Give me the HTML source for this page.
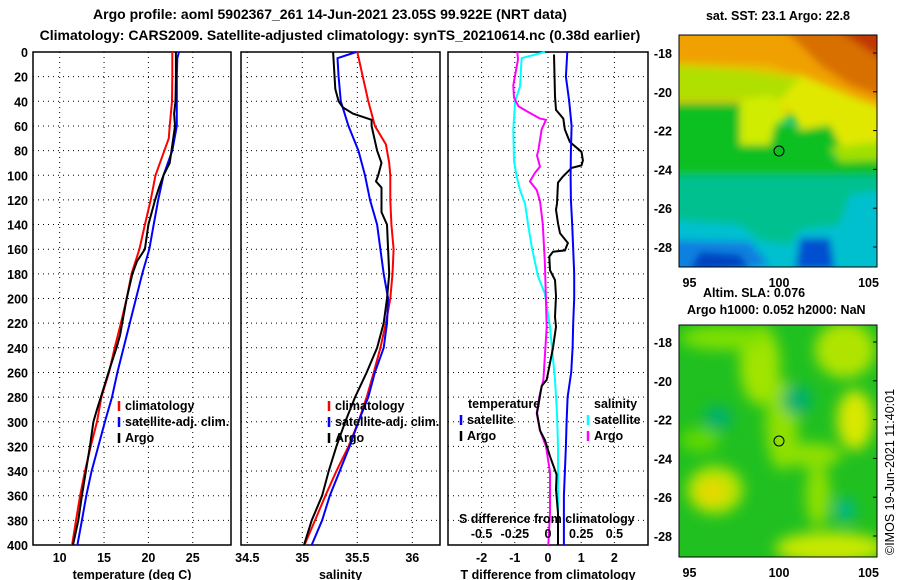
<!DOCTYPE html>
<html><head><meta charset="utf-8">
<style>
html,body{margin:0;padding:0;background:#fff;}
svg{display:block;}
text{font-family:"Liberation Sans",Arial,sans-serif;font-weight:bold;font-size:13px;fill:#000;}
.tk{font-size:12.5px;}
</style></head>
<body>
<svg id="chart" width="900" height="580" viewBox="0 0 900 580" xmlns="http://www.w3.org/2000/svg">
<defs>
<filter id="blur1" x="-20%" y="-20%" width="140%" height="140%"><feGaussianBlur stdDeviation="4"/></filter>
<filter id="blur2" x="-20%" y="-20%" width="140%" height="140%"><feGaussianBlur stdDeviation="7"/></filter>
<clipPath id="clipTop"><rect x="679" y="35" width="198" height="232"/></clipPath>
<clipPath id="clipBot"><rect x="679" y="325" width="198" height="232"/></clipPath>
</defs>
<text x="330" y="19" text-anchor="middle" style="font-size:14px">Argo profile: aoml 5902367_261 14-Jun-2021 23.05S 99.922E (NRT data)</text>
<text x="340" y="40" text-anchor="middle" style="font-size:14px">Climatology: CARS2009. Satellite-adjusted climatology: synTS_20210614.nc (0.38d earlier)</text>

<g id="p1"></g>
<g id="p2"></g>
<g id="p3"></g>

<!-- SST map -->
<g>
<text x="778" y="20" text-anchor="middle" class="tk">sat. SST: 23.1 Argo: 22.8</text>
<g clip-path="url(#clipTop)">
<rect x="679" y="35" width="198" height="232" fill="#00c090"/>
<g filter="url(#blur1)">
<rect x="670" y="25" width="220" height="90" fill="#e8c000"/>
<polygon points="670,25 890,25 890,120 860,100 820,85 770,65 670,62" fill="#f0a000"/>
<polygon points="780,25 890,25 890,100 850,85 820,65 800,45" fill="#d87000"/>
<polygon points="830,25 890,25 890,65 860,45" fill="#c03800"/>
<polygon points="740,80 800,75 860,100 890,110 890,158 850,158 830,150 800,130 790,110 760,100" fill="#e0e800"/>
<polygon points="670,65 740,70 800,78 780,100 740,100 670,100" fill="#b0e000"/>
<polygon points="670,103 740,103 740,145 770,145 775,125 790,125 800,130 830,125 840,145 830,158 890,158 890,185 670,185" fill="#10c020"/>
<polygon points="740,100 770,95 790,118 775,125 770,145 740,145" fill="#d0ec00"/>
<polygon points="830,148 890,140 890,160 840,162" fill="#a0e000"/>
<polygon points="670,175 890,175 890,240 670,230" fill="#00c090"/>
<polygon points="670,220 740,225 760,240 790,245 800,230 840,225 850,195 890,190 890,280 670,280" fill="#00c0d0"/>
<polygon points="670,240 750,242 770,265 670,280" fill="#1080e0"/>
<polygon points="700,252 740,255 750,270 690,270" fill="#0040c0"/>
<polygon points="800,238 830,238 835,270 795,270" fill="#0050d0"/>
</g>
</g>
<rect x="679" y="35" width="198" height="232" fill="none" stroke="#000" stroke-width="1"/>
<circle cx="779" cy="151" r="5" fill="none" stroke="#000" stroke-width="1"/>
</g>

<!-- SLA map -->
<g>
<g clip-path="url(#clipBot)">
<rect x="679" y="325" width="198" height="232" fill="#20c020"/>
<g filter="url(#blur2)">
<ellipse cx="760" cy="365" rx="20" ry="40" fill="#a0e400"/>
<ellipse cx="725" cy="338" rx="45" ry="12" fill="#80e000"/>
<ellipse cx="845" cy="350" rx="30" ry="28" fill="#b0e400"/>
<ellipse cx="855" cy="420" rx="18" ry="30" fill="#d8e800"/>
<ellipse cx="782" cy="425" rx="16" ry="45" fill="#90e000"/>
<ellipse cx="810" cy="455" rx="32" ry="12" fill="#90e000"/>
<ellipse cx="818" cy="495" rx="12" ry="32" fill="#90e000"/>
<ellipse cx="700" cy="440" rx="20" ry="12" fill="#60d800"/>
<ellipse cx="715" cy="490" rx="28" ry="24" fill="#b8e400"/>
<ellipse cx="712" cy="492" rx="15" ry="12" fill="#e8d800"/>
<ellipse cx="830" cy="548" rx="55" ry="16" fill="#c8e800"/>
<ellipse cx="718" cy="418" rx="14" ry="12" fill="#00b070"/>
<ellipse cx="797" cy="400" rx="15" ry="15" fill="#00b070"/>
<ellipse cx="845" cy="510" rx="10" ry="12" fill="#00b890"/>
</g>
</g>
<rect x="679" y="325" width="198" height="232" fill="none" stroke="#000" stroke-width="1"/>
<circle cx="779" cy="441" r="5" fill="none" stroke="#000" stroke-width="1"/>
<text x="703" y="297" class="tk">Altim. SLA: 0.076</text>
<text x="687" y="314" class="tk">Argo h1000: 0.052 h2000: NaN</text>
</g>
<g id="maplabels"></g>
<text transform="translate(894,555) rotate(-90)" style="font-weight:normal;font-size:12.5px">©IMOS 19-Jun-2021 11:40:01</text>

<script>
// ---------- data ----------
const depthTicks = [0,20,40,60,80,100,120,140,160,180,200,220,240,260,280,300,320,340,360,380,400];
const tTicks = [10,15,20,25];
const sTicks = [34.5,35,35.5,36];
const dTTicks = [-2,-1,0,1,2];
const dSTicks = [-0.5,-0.25,0,0.25,0.5];
const dSTickLabels = ["-0.5","-0.25","0","0.25","0.5"];

const tClimDepth = [0,20,40,60,70,80,100,120,140,160,180,200,220,240,260,280,300,320,340,360,380,400];
const tClimVal   = [22.7,22.7,22.66,22.4,22.3,21.8,20.8,20.26,19.6,18.98,18.1,17.55,16.9,16.2,15.56,14.7,14.2,13.5,12.85,12.3,11.84,11.4];
const tSatDepth = [0,5,20,40,60,80,100,120,140,160,180,200,220,240,260,280,300,320,340,360,380,400];
const tSatVal   = [23.45,23.26,23.2,23.2,23.2,22.7,21.7,21.1,20.6,20.1,19.3,18.6,17.9,17.2,16.5,15.9,15.1,14.35,13.6,13.0,12.5,12.0];
const tArgoDepth = [0,20,40,50,60,80,90,100,110,120,140,160,170,180,200,220,230,240,260,280,290,300,320,340,360,380,400];
const tArgoVal   = [23.1,23.1,23.05,22.9,23.0,22.6,22.4,21.7,21.2,20.75,20.0,19.6,18.7,18.2,17.55,17.05,16.8,16.4,15.5,14.65,14.2,13.8,13.4,12.95,12.5,12.1,11.5];

const sClimDepth = [0,40,60,75,90,100,120,140,160,180,190,200,210,220,240,260,280,300,320,340,360,380,400];
const sClimVal   = [35.50,35.60,35.66,35.76,35.79,35.80,35.80,35.81,35.83,35.82,35.81,35.80,35.78,35.76,35.71,35.65,35.585,35.51,35.42,35.31,35.21,35.115,35.02];
const sSatDepth = [0,5,20,40,60,80,100,120,140,160,180,200,220,240,260,280,300,320,340,360,380,400];
const sSatVal   = [35.49,35.32,35.33,35.35,35.42,35.51,35.57,35.615,35.68,35.71,35.74,35.78,35.77,35.74,35.66,35.60,35.51,35.43,35.34,35.25,35.18,35.085];
const sArgoDepth = [0,30,40,45,50,55,60,80,90,100,105,110,120,130,140,160,180,200,220,240,260,280,300,320,340,360,380,400];
const sArgoVal   = [35.28,35.30,35.33,35.37,35.46,35.63,35.63,35.68,35.72,35.69,35.67,35.72,35.72,35.72,35.77,35.78,35.79,35.77,35.74,35.68,35.585,35.48,35.39,35.31,35.24,35.18,35.085,35.015];

const dTSatDepth = [0,20,40,60,80,100,120,140,160,180,200,220,240,260,280,300,320,340,360,400];
const dTSatVal   = [0.58,0.54,0.64,0.71,0.69,0.68,0.69,0.73,0.76,0.79,0.79,0.76,0.74,0.70,0.59,0.56,0.54,0.51,0.48,0.48];
const dTArgoDepth = [2,36,47,54,63,73,81,88,92,94,97,101,106,123,128,139,147,155,161,162,166,177,185,198,215,223,240,266,271,293,307,315,328,343,355,374,400];
const dTArgoVal   = [0.18,0.21,0.24,0.46,0.51,0.66,1.01,1.05,1.01,0.71,0.60,0.45,0.30,0.27,0.24,0.30,0.36,0.60,0.51,0.15,0.04,0.06,0.21,0.24,0.21,0.24,0.15,-0.04,-0.19,-0.33,-0.24,-0.09,0.06,0.26,0.24,0.30,0.30];
const dSSatDepth = [0,5,28,40,63,88,101,112,123,139,158,182,196,223,266,293,320,374,400];
const dSSatVal   = [-0.023,-0.199,-0.211,-0.248,-0.261,-0.256,-0.236,-0.211,-0.173,-0.151,-0.123,-0.075,-0.023,0.015,0.053,0.068,0.075,0.075,0.075];
const dSArgoDepth = [0,6,27,37,44,48,54,55,63,80,84,93,98,105,112,121,139,171,223,266,277,293,307,320,341,374,400];
const dSArgoVal   = [-0.231,-0.226,-0.261,-0.256,-0.223,-0.160,-0.060,-0.015,-0.048,-0.073,-0.083,-0.060,-0.098,-0.136,-0.085,-0.060,-0.040,-0.023,-0.010,-0.035,-0.060,-0.085,-0.060,-0.015,0.015,0.015,0.002];

const latTicks = [-18,-20,-22,-24,-26,-28];
const lonTicks = [95,100,105];

// ---------- helpers ----------
const NS = "http://www.w3.org/2000/svg";
const svg = document.getElementById('chart');
function mk(tag, attrs, parent){ const e=document.createElementNS(NS,tag); for(const k in attrs) e.setAttribute(k,attrs[k]); (parent||svg).appendChild(e); return e; }
const Y0=52, Y1=545;
const yD = d => Y0 + (Y1-Y0)*d/400;

function panel(g, x0, x1, xScale, vTicks, tickLabels, xTitle, showDepth){
  for(const d of depthTicks){ if(d===0||d===400) continue;
    const l=mk('line',{x1:x0,x2:x1,y1:yD(d),y2:yD(d),stroke:'#000','stroke-width':1,'stroke-dasharray':'1,4'},g);
      }
  vTicks.forEach((v,i)=>{ const x=xScale(v);
    const l=mk('line',{x1:x,x2:x,y1:Y0,y2:Y1,stroke:'#000','stroke-width':1,'stroke-dasharray':'1,4'},g);
     
    if(tickLabels){ const t=mk('text',{x:x,y:562,'text-anchor':'middle',class:'tk'},g); t.textContent=tickLabels[i];
        }
  });
  const r=mk('rect',{x:x0,y:Y0,width:x1-x0,height:Y1-Y0,fill:'none',stroke:'#000','stroke-width':1.5},g);
   
  const tt=mk('text',{x:(x0+x1)/2,y:579,'text-anchor':'middle',class:'tk'},g); tt.textContent=xTitle;
   
  if(showDepth){ for(const d of depthTicks){ const t=mk('text',{x:28,y:yD(d)+5,'text-anchor':'end',class:'tk'},g); t.textContent=d;
      } }
}
function series(g, depths, vals, xScale, color, name){
  const pts = depths.map((d,i)=>xScale(vals[i]).toFixed(1)+','+yD(d).toFixed(1)).join(' ');
  const p=mk('polyline',{points:pts,fill:'none',stroke:color,'stroke-width':2},g);
   
}
function legend(g, x, y, color, label, name){
  const l=mk('line',{x1:x,x2:x,y1:y-9,y2:y+1,stroke:color,'stroke-width':2.5},g);
   
  const t=mk('text',{x:x+6,y:y,class:'tk'},g); t.textContent=label;
   
}

// ---------- panel 1: temperature ----------
const g1=document.getElementById('p1');
const xT = v => 59.7 + 8.87*(v-10);
panel(g1,33,231,xT,tTicks,tTicks.map(String),'temperature (deg C)',true);
series(g1,tClimDepth,tClimVal,xT,'#ff0000','temp-climatology-line');
series(g1,tSatDepth,tSatVal,xT,'#0000ff','temp-satellite-line');
series(g1,tArgoDepth,tArgoVal,xT,'#000000','temp-argo-line');
legend(g1,119,410,'#ff0000','climatology','legend-climatology');
legend(g1,119,426,'#0000ff','satellite-adj. clim.','legend-satellite');
legend(g1,119,442,'#000000','Argo','legend-argo');

// ---------- panel 2: salinity ----------
const g2=document.getElementById('p2');
const xS = v => 302.3 + 110*(v-35);
panel(g2,241,440,xS,sTicks,sTicks.map(String),'salinity',false);
series(g2,sClimDepth,sClimVal,xS,'#ff0000','sal-climatology-line');
series(g2,sSatDepth,sSatVal,xS,'#0000ff','sal-satellite-line');
series(g2,sArgoDepth,sArgoVal,xS,'#000000','sal-argo-line');
legend(g2,329,410,'#ff0000','climatology','legend-climatology');
legend(g2,329,426,'#0000ff','satellite-adj. clim.','legend-satellite');
legend(g2,329,442,'#000000','Argo','legend-argo');

// ---------- panel 3: differences ----------
const g3=document.getElementById('p3');
const xdT = v => 548 + 33.2*v;
const xdS = v => 548 + 132.8*v;
panel(g3,448,648,xdT,dTTicks,dTTicks.map(String),'T difference from climatology',false);
series(g3,dSSatDepth,dSSatVal,xdS,'#00ffff','sdiff-satellite-line');
series(g3,dSArgoDepth,dSArgoVal,xdS,'#ff00ff','sdiff-argo-line');
series(g3,dTArgoDepth,dTArgoVal,xdT,'#000000','tdiff-argo-line');
series(g3,dTSatDepth,dTSatVal,xdT,'#0000ff','tdiff-satellite-line');
let t;
t=mk('text',{x:468,y:408,class:'tk'},g3); t.textContent='temperature';
 
t=mk('text',{x:594,y:408,class:'tk'},g3); t.textContent='salinity';
 
legend(g3,461,424,'#0000ff','satellite','legend-t-satellite');
legend(g3,461,440,'#000000','Argo','legend-t-argo');
legend(g3,588,424,'#00ffff','satellite','legend-s-satellite');
legend(g3,588,440,'#ff00ff','Argo','legend-s-argo');
t=mk('text',{x:459,y:523,class:'tk'},g3); t.textContent='S difference from climatology';
 
dSTicks.forEach((v,i)=>{ const e=mk('text',{x:xdS(v),y:538,'text-anchor':'middle',class:'tk'},g3); e.textContent=dSTickLabels[i];
    });

// ---------- map axes ----------
const gm=document.getElementById('maplabels');
const lonX = v => 779 + 17.9*(v-100);
const latTop = v => 53 + 19.4*(-18-v);
const latBot = v => 342 + 19.4*(-18-v);
for(const la of latTicks){
  for(const f of [latTop,latBot]){
    const e=mk('text',{x:672,y:f(la)+5,'text-anchor':'end',class:'tk'},gm); e.textContent=la;
     
    const tk=mk('line',{x1:873,x2:877,y1:f(la),y2:f(la),stroke:'#000'},gm);
     
  }
}
for(const lo of lonTicks){
  for(const y of [287,577]){
    const e=mk('text',{x:lonX(lo),y:y,'text-anchor':'middle',class:'tk'},gm); e.textContent=lo;
     
  }
}
</script>
</svg>
</body></html>
